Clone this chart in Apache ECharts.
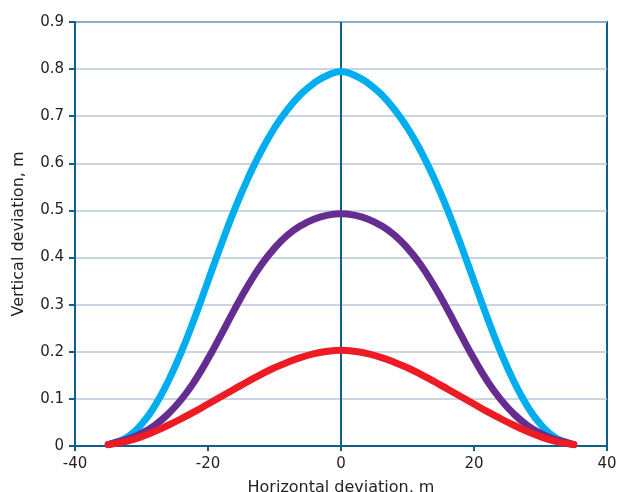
<!DOCTYPE html>
<html>
<head>
<meta charset="utf-8">
<script src="https://cdn.jsdelivr.net/npm/echarts@6/dist/echarts.min.js"></script>
<style>
	html, body { margin:0; padding:0; background:#fff; }
	#main { width:617px; height:492px; }
</style>
</head>
<body>
<div id="main"></div>
<script type="text/javascript">

	// horizontal positions (m) where the curves were read
	var xs = [-35, -34, -32, -30, -28, -26, -24, -22, -20, -18, -16, -14, -12, -10, -8, -6, -4, -2, 0,
	          2, 4, 6, 8, 10, 12, 14, 16, 18, 20, 22, 24, 26, 28, 30, 32, 34, 35];

	// vertical deviation (m) of each curve
	var blueVals   = [0.003, 0.007, 0.02, 0.046, 0.085, 0.137, 0.20, 0.272, 0.35, 0.428, 0.502, 0.568, 0.626, 0.675, 0.715, 0.747, 0.771, 0.787, 0.795,
	                  0.787, 0.771, 0.747, 0.715, 0.675, 0.626, 0.568, 0.502, 0.428, 0.35, 0.272, 0.20, 0.137, 0.085, 0.046, 0.02, 0.007, 0.003];
	var purpleVals = [0.003, 0.007, 0.015, 0.027, 0.044, 0.068, 0.099, 0.138, 0.185, 0.237, 0.29, 0.34, 0.384, 0.42, 0.448, 0.468, 0.482, 0.49, 0.493,
	                  0.49, 0.482, 0.468, 0.448, 0.42, 0.384, 0.34, 0.29, 0.237, 0.185, 0.138, 0.099, 0.068, 0.044, 0.027, 0.015, 0.007, 0.003];
	var redVals    = [0.003, 0.005, 0.011, 0.02, 0.031, 0.044, 0.058, 0.073, 0.089, 0.105, 0.121, 0.137, 0.152, 0.166, 0.178, 0.188, 0.196, 0.201, 0.203,
	                  0.201, 0.196, 0.188, 0.178, 0.166, 0.152, 0.137, 0.121, 0.105, 0.089, 0.073, 0.058, 0.044, 0.031, 0.02, 0.011, 0.005, 0.003];

	// the vertical reference line at x = 0
	var centerX = [0, 0];
	var centerY = [0, 0.9];

	var xTicks = { min: -40, max: 40, interval: 20 };
	var yTicks = { min: 0, max: 0.9, interval: 0.1 };

	function pairs(x, y){
		var out = [];
		for (var i = 0; i < x.length; i++) out.push([x[i], y[i]]);
		return out;
	}

	var axisColor = '#0e5f8c';
	var textColor = '#231f20';
	var font = 'DejaVu Sans';

	var chart = echarts.init(document.getElementById('main'));
	chart.setOption({
		animation: false,
		grid: {
			left: 75, right: 10, top: 22, bottom: 46,
			containLabel: false, outerBoundsMode: 'none',
			show: true, borderColor: axisColor, borderWidth: 2
		},
		xAxis: {
			type: 'value',
			min: xTicks.min, max: xTicks.max, interval: xTicks.interval,
			name: 'Horizontal deviation, m',
			nameLocation: 'middle',
			nameGap: 34,
			nameTextStyle: { color: textColor, fontSize: 16, fontFamily: font },
			axisLine: { onZero: false, lineStyle: { color: axisColor, width: 2 } },
			axisTick: { length: 5, lineStyle: { color: axisColor, width: 2 } },
			axisLabel: { color: textColor, fontSize: 15, fontFamily: font, margin: 11 },
			splitLine: { show: false }
		},
		yAxis: {
			type: 'value',
			min: yTicks.min, max: yTicks.max, interval: yTicks.interval,
			name: 'Vertical deviation, m',
			nameLocation: 'middle',
			nameGap: 48,
			nameTextStyle: { color: textColor, fontSize: 16, fontFamily: font },
			axisLine: { onZero: false, lineStyle: { color: axisColor, width: 2 } },
			axisTick: { length: 6, lineStyle: { color: axisColor, width: 2 } },
			axisLabel: { color: textColor, fontSize: 15, fontFamily: font, margin: 11 },
			splitLine: { lineStyle: { color: '#b8c7d9', width: 1.5 } }
		},
		series: [
			{
				type: 'line', z: 1, silent: true, showSymbol: false,
				lineStyle: { color: axisColor, width: 2 },
				data: pairs(centerX, centerY)
			},
			{
				type: 'line', z: 3, smooth: true, showSymbol: false,
				lineStyle: { color: '#00aeef', width: 7, cap: 'round' },
				data: pairs(xs, blueVals)
			},
			{
				type: 'line', z: 4, smooth: true, showSymbol: false,
				lineStyle: { color: '#662d91', width: 7, cap: 'round' },
				data: pairs(xs, purpleVals)
			},
			{
				type: 'line', z: 5, smooth: true, showSymbol: false,
				lineStyle: { color: '#ed1c24', width: 7, cap: 'round' },
				data: pairs(xs, redVals)
			}
		]
	});

</script>
</body>
</html>
